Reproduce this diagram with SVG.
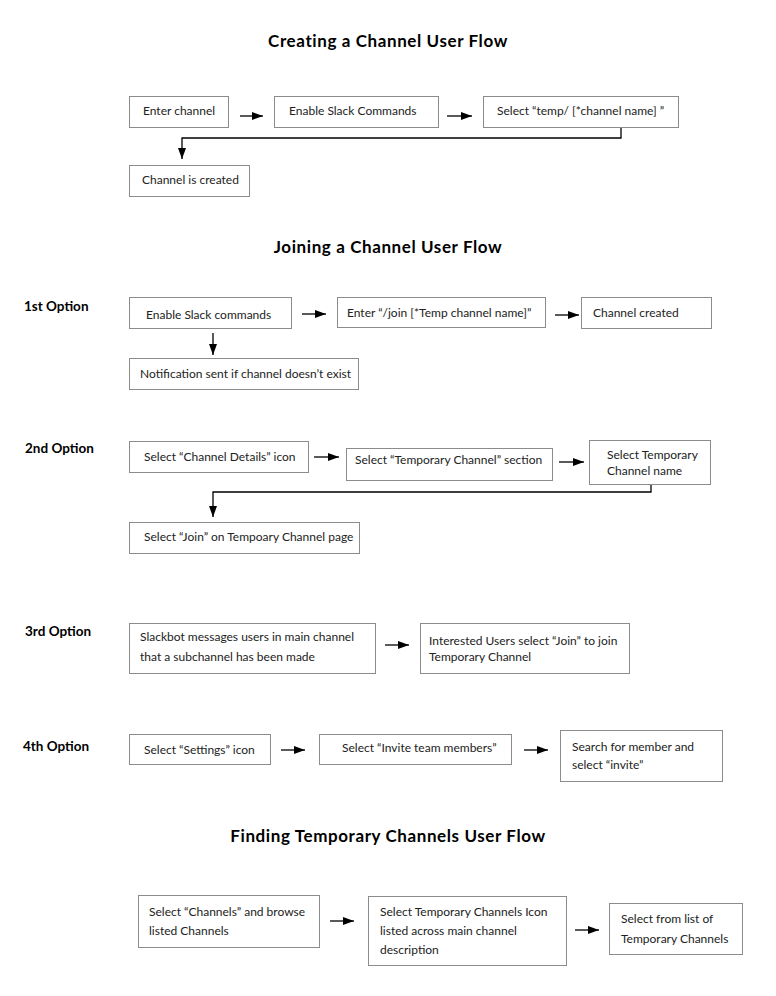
<svg xmlns="http://www.w3.org/2000/svg" width="776" height="996" viewBox="0 0 776 996">
<style>
.bg{fill:#ffffff}
.box{fill:#ffffff;stroke:#8c8c8c;stroke-width:1}
.t{font-family:Lato,"Liberation Sans",sans-serif;font-size:12px;font-weight:normal;fill:#222}
.h{font-family:Lato,"Liberation Sans",sans-serif;font-size:17px;font-weight:bold;fill:#000;text-anchor:middle;letter-spacing:0.6px}
.lbl{font-family:Lato,"Liberation Sans",sans-serif;font-size:13.5px;font-weight:bold;fill:#000}
.c{fill:none;stroke:#000;stroke-width:1.3}
</style>
<defs>
<marker id="ah" markerUnits="userSpaceOnUse" markerWidth="11" markerHeight="8" refX="11" refY="4" orient="auto">
<path d="M0,0 L11,4 L0,8 z" fill="#000"/>
</marker>
</defs>
<rect class="bg" x="0" y="0" width="776" height="996"/>

<g id="titles">
<text class="h" x="388" y="47">Creating a Channel User Flow</text>
<text class="h" x="388" y="253">Joining a Channel User Flow</text>
<text class="h" x="388" y="842">Finding Temporary Channels User Flow</text>
<text class="lbl" x="24" y="311">1st Option</text>
<text class="lbl" x="25" y="453">2nd Option</text>
<text class="lbl" x="25" y="636">3rd Option</text>
<text class="lbl" x="23" y="751">4th Option</text>
</g>

<g id="connectors">
<line class="c" x1="240" y1="116" x2="263" y2="116" marker-end="url(#ah)"/>
<line class="c" x1="447" y1="116" x2="472" y2="116" marker-end="url(#ah)"/>
<polyline class="c" points="621,127 621,138 182,138 182,159" marker-end="url(#ah)"/>
<line class="c" x1="302" y1="314" x2="326" y2="314" marker-end="url(#ah)"/>
<line class="c" x1="555" y1="315" x2="579" y2="315" marker-end="url(#ah)"/>
<line class="c" x1="213" y1="333" x2="213" y2="355" marker-end="url(#ah)"/>
<line class="c" x1="314" y1="457" x2="339" y2="457" marker-end="url(#ah)"/>
<line class="c" x1="559" y1="462" x2="584" y2="462" marker-end="url(#ah)"/>
<polyline class="c" points="651,484 651,492 213,492 213,517" marker-end="url(#ah)"/>
<line class="c" x1="385" y1="645" x2="409" y2="645" marker-end="url(#ah)"/>
<line class="c" x1="281" y1="750" x2="305" y2="750" marker-end="url(#ah)"/>
<line class="c" x1="524" y1="750" x2="548" y2="750" marker-end="url(#ah)"/>
<line class="c" x1="330" y1="921" x2="354" y2="921" marker-end="url(#ah)"/>
<line class="c" x1="575" y1="930" x2="599" y2="930" marker-end="url(#ah)"/>
</g>

<g id="n-enter-channel"><rect class="box" x="129.5" y="96.5" width="99" height="31"/><text class="t" x="143" y="115">Enter channel</text></g>
<g id="n-enable-slack-commands"><rect class="box" x="274.5" y="96.5" width="164" height="31"/><text class="t" x="289" y="115">Enable Slack Commands</text></g>
<g id="n-select-temp"><rect class="box" x="483.5" y="96.5" width="195" height="31"/><text class="t" x="497" y="115">Select “temp/ [*channel name] ”</text></g>
<g id="n-channel-is-created"><rect class="box" x="129.5" y="165.5" width="120" height="31"/><text class="t" x="142" y="184">Channel is created</text></g>

<g id="n-o1-enable"><rect class="box" x="129.5" y="297.5" width="162" height="31"/><text class="t" x="146" y="319">Enable Slack commands</text></g>
<g id="n-o1-join"><rect class="box" x="337.5" y="297.5" width="208" height="30"/><text class="t" x="347" y="317">Enter “/join [*Temp channel name]”</text></g>
<g id="n-o1-created"><rect class="box" x="581.5" y="297.5" width="130" height="31"/><text class="t" x="593" y="317">Channel created</text></g>
<g id="n-o1-notification"><rect class="box" x="129.5" y="358.5" width="229" height="31"/><text class="t" x="140" y="378">Notification sent if channel doesn’t exist</text></g>

<g id="n-o2-details"><rect class="box" x="129.5" y="441.5" width="179" height="31"/><text class="t" x="144" y="461">Select “Channel Details” icon</text></g>
<g id="n-o2-section"><rect class="box" x="346.5" y="448.5" width="206" height="32"/><text class="t" x="355" y="464">Select “Temporary Channel” section</text></g>
<g id="n-o2-name"><rect class="box" x="589.5" y="440.5" width="121" height="44"/><text class="t" x="607" y="459">Select Temporary</text><text class="t" x="607" y="475">Channel name</text></g>
<g id="n-o2-join"><rect class="box" x="129.5" y="522.5" width="230" height="31"/><text class="t" x="144" y="541">Select “Join” on Tempoary Channel page</text></g>

<g id="n-o3-slackbot"><rect class="box" x="129.5" y="623.5" width="246" height="50"/><text class="t" x="140" y="641">Slackbot messages users in main channel</text><text class="t" x="140" y="661">that a subchannel has been made</text></g>
<g id="n-o3-interested"><rect class="box" x="420.5" y="623.5" width="209" height="50"/><text class="t" x="429" y="645">Interested Users select “Join” to join</text><text class="t" x="429" y="661">Temporary Channel</text></g>

<g id="n-o4-settings"><rect class="box" x="129.5" y="734.5" width="141" height="30"/><text class="t" x="144" y="754">Select “Settings” icon</text></g>
<g id="n-o4-invite"><rect class="box" x="319.5" y="734.5" width="192" height="30"/><text class="t" x="342" y="752">Select “Invite team members”</text></g>
<g id="n-o4-search"><rect class="box" x="560.5" y="730.5" width="162" height="51"/><text class="t" x="572" y="751">Search for member and</text><text class="t" x="572" y="769">select “invite”</text></g>

<g id="n-f-channels"><rect class="box" x="138.5" y="895.5" width="181" height="52"/><text class="t" x="149" y="916">Select “Channels” and browse</text><text class="t" x="149" y="935">listed Channels</text></g>
<g id="n-f-icon"><rect class="box" x="368.5" y="896.5" width="198" height="69"/><text class="t" x="380" y="916">Select Temporary Channels Icon</text><text class="t" x="380" y="935">listed across main channel</text><text class="t" x="380" y="954">description</text></g>
<g id="n-f-list"><rect class="box" x="609.5" y="903.5" width="133" height="51"/><text class="t" x="621" y="923">Select from list of</text><text class="t" x="621" y="943">Temporary Channels</text></g>
</svg>
